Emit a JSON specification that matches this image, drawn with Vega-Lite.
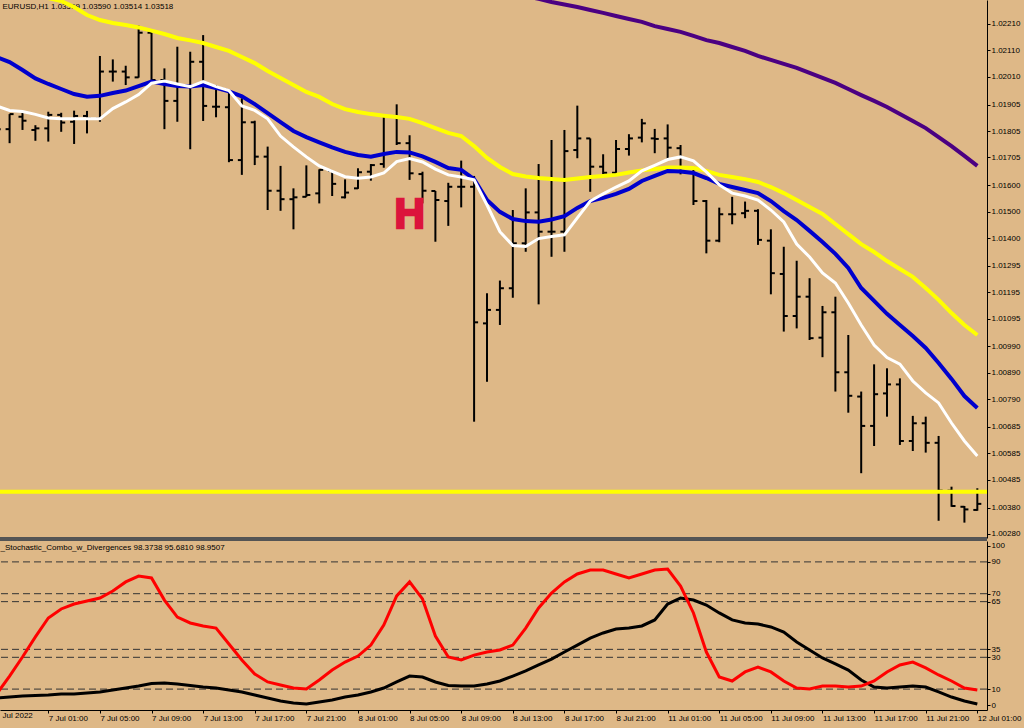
{
  "$schema": "https://vega.github.io/schema/vega-lite/v6.json",
  "width": 987,
  "height": 710,
  "autosize": {"type": "none"},
  "padding": {"left": 0, "top": 0, "right": 37, "bottom": 18},
  "background": "#DEB887",
  "datasets": {
    "bars": [
      {"i":-4,"t":"6 Jul 21:00","o":1.01828,"h":1.01854,"l":1.0179,"c":1.01812,"ma1":1.02395,"ma2":1.02085,"ma3":1.019,"k":6.9,"d":4.4},
      {"i":-3,"t":"6 Jul 22:00","o":1.01812,"h":1.01869,"l":1.01759,"c":1.01869,"ma1":1.02369,"ma2":1.02066,"ma3":1.01883,"k":18.2,"d":5.0},
      {"i":-2,"t":"6 Jul 23:00","o":1.01859,"h":1.01874,"l":1.01809,"c":1.01844,"ma1":1.02346,"ma2":1.02036,"ma3":1.01879,"k":30.2,"d":5.7},
      {"i":-1,"t":"7 Jul 00:00","o":1.01809,"h":1.01827,"l":1.01768,"c":1.01815,"ma1":1.02324,"ma2":1.02004,"ma3":1.01868,"k":42.8,"d":6.0},
      {"i":0,"t":"7 Jul 01:00","o":1.01815,"h":1.01878,"l":1.01765,"c":1.01866,"ma1":1.02308,"ma2":1.01983,"ma3":1.01854,"k":54.7,"d":6.3},
      {"i":1,"t":"7 Jul 02:00","o":1.01866,"h":1.01874,"l":1.01802,"c":1.01837,"ma1":1.02297,"ma2":1.01964,"ma3":1.01851,"k":60.4,"d":6.9},
      {"i":2,"t":"7 Jul 03:00","o":1.0184,"h":1.01882,"l":1.01756,"c":1.01862,"ma1":1.02274,"ma2":1.01945,"ma3":1.01851,"k":63.5,"d":6.9},
      {"i":3,"t":"7 Jul 04:00","o":1.01862,"h":1.01881,"l":1.01796,"c":1.01852,"ma1":1.02244,"ma2":1.01935,"ma3":1.01851,"k":65.4,"d":7.5},
      {"i":4,"t":"7 Jul 05:00","o":1.01852,"h":1.02089,"l":1.0184,"c":1.0203,"ma1":1.02225,"ma2":1.01938,"ma3":1.01851,"k":67.3,"d":8.2},
      {"i":5,"t":"7 Jul 06:00","o":1.0203,"h":1.02076,"l":1.01992,"c":1.0203,"ma1":1.02214,"ma2":1.01949,"ma3":1.0189,"k":71.7,"d":9.4},
      {"i":6,"t":"7 Jul 07:00","o":1.0203,"h":1.02052,"l":1.01979,"c":1.02008,"ma1":1.02206,"ma2":1.01958,"ma3":1.01915,"k":77.4,"d":10.7},
      {"i":7,"t":"7 Jul 08:00","o":1.02008,"h":1.02204,"l":1.02007,"c":1.02177,"ma1":1.02197,"ma2":1.01975,"ma3":1.01943,"k":81.1,"d":11.9},
      {"i":8,"t":"7 Jul 09:00","o":1.02177,"h":1.02177,"l":1.01998,"c":1.01998,"ma1":1.02185,"ma2":1.01992,"ma3":1.01986,"k":79.9,"d":13.5},
      {"i":9,"t":"7 Jul 10:00","o":1.01998,"h":1.02042,"l":1.01812,"c":1.01919,"ma1":1.02172,"ma2":1.01983,"ma3":1.01994,"k":66.0,"d":13.8},
      {"i":10,"t":"7 Jul 11:00","o":1.01919,"h":1.02124,"l":1.0184,"c":1.01973,"ma1":1.02157,"ma2":1.01975,"ma3":1.01983,"k":55.3,"d":13.2},
      {"i":11,"t":"7 Jul 12:00","o":1.01973,"h":1.02105,"l":1.01736,"c":1.02067,"ma1":1.02148,"ma2":1.01973,"ma3":1.01973,"k":51.6,"d":12.3},
      {"i":12,"t":"7 Jul 13:00","o":1.02067,"h":1.02168,"l":1.01843,"c":1.019,"ma1":1.02138,"ma2":1.01979,"ma3":1.01992,"k":49.7,"d":11.3},
      {"i":13,"t":"7 Jul 14:00","o":1.01897,"h":1.01979,"l":1.01857,"c":1.01897,"ma1":1.02123,"ma2":1.01968,"ma3":1.01973,"k":48.4,"d":10.7},
      {"i":14,"t":"7 Jul 15:00","o":1.01895,"h":1.01958,"l":1.01687,"c":1.01695,"ma1":1.02108,"ma2":1.01955,"ma3":1.01958,"k":38.4,"d":9.4},
      {"i":15,"t":"7 Jul 16:00","o":1.01695,"h":1.01929,"l":1.01639,"c":1.01838,"ma1":1.02085,"ma2":1.01936,"ma3":1.019,"k":28.3,"d":8.2},
      {"i":16,"t":"7 Jul 17:00","o":1.01838,"h":1.01844,"l":1.01676,"c":1.01708,"ma1":1.02062,"ma2":1.01907,"ma3":1.01883,"k":19.5,"d":6.3},
      {"i":17,"t":"7 Jul 18:00","o":1.01708,"h":1.01746,"l":1.01506,"c":1.01579,"ma1":1.02032,"ma2":1.01873,"ma3":1.01851,"k":14.5,"d":4.4},
      {"i":18,"t":"7 Jul 19:00","o":1.01579,"h":1.01673,"l":1.01503,"c":1.01547,"ma1":1.02006,"ma2":1.01839,"ma3":1.01786,"k":12.6,"d":2.5},
      {"i":19,"t":"7 Jul 20:00","o":1.01547,"h":1.01588,"l":1.01433,"c":1.01554,"ma1":1.01979,"ma2":1.01805,"ma3":1.01745,"k":10.7,"d":1.3},
      {"i":20,"t":"7 Jul 21:00","o":1.01556,"h":1.01675,"l":1.01556,"c":1.01563,"ma1":1.01953,"ma2":1.01782,"ma3":1.01707,"k":10.1,"d":0.6},
      {"i":21,"t":"7 Jul 22:00","o":1.01569,"h":1.0166,"l":1.01531,"c":1.01658,"ma1":1.01934,"ma2":1.01762,"ma3":1.01673,"k":15.7,"d":1.9},
      {"i":22,"t":"7 Jul 23:00","o":1.01654,"h":1.01654,"l":1.01559,"c":1.01605,"ma1":1.01907,"ma2":1.01743,"ma3":1.01652,"k":22.0,"d":3.1},
      {"i":23,"t":"8 Jul 00:00","o":1.01554,"h":1.01622,"l":1.0155,"c":1.01572,"ma1":1.01888,"ma2":1.01726,"ma3":1.01632,"k":27.0,"d":5.0},
      {"i":24,"t":"8 Jul 01:00","o":1.01588,"h":1.01664,"l":1.01586,"c":1.01649,"ma1":1.01877,"ma2":1.01714,"ma3":1.01626,"k":30.8,"d":6.3},
      {"i":25,"t":"8 Jul 02:00","o":1.01651,"h":1.0168,"l":1.01617,"c":1.01676,"ma1":1.01869,"ma2":1.01708,"ma3":1.01631,"k":37.7,"d":8.2},
      {"i":26,"t":"8 Jul 03:00","o":1.0168,"h":1.01863,"l":1.01666,"c":1.01862,"ma1":1.01863,"ma2":1.01718,"ma3":1.01646,"k":50.3,"d":10.7},
      {"i":27,"t":"8 Jul 04:00","o":1.01862,"h":1.01906,"l":1.01752,"c":1.01759,"ma1":1.01858,"ma2":1.01726,"ma3":1.01689,"k":68.6,"d":14.5},
      {"i":28,"t":"8 Jul 05:00","o":1.01759,"h":1.01789,"l":1.0162,"c":1.01645,"ma1":1.01851,"ma2":1.01724,"ma3":1.01701,"k":77.4,"d":18.2},
      {"i":29,"t":"8 Jul 06:00","o":1.01642,"h":1.01651,"l":1.01531,"c":1.01579,"ma1":1.01835,"ma2":1.01709,"ma3":1.01688,"k":66.7,"d":17.6},
      {"i":30,"t":"8 Jul 07:00","o":1.01578,"h":1.01578,"l":1.01386,"c":1.01544,"ma1":1.01816,"ma2":1.01688,"ma3":1.01661,"k":43.4,"d":14.5},
      {"i":31,"t":"8 Jul 08:00","o":1.0154,"h":1.01609,"l":1.01446,"c":1.01594,"ma1":1.01798,"ma2":1.01665,"ma3":1.01639,"k":30.2,"d":12.3},
      {"i":32,"t":"8 Jul 09:00","o":1.01594,"h":1.01693,"l":1.01516,"c":1.01594,"ma1":1.01786,"ma2":1.01658,"ma3":1.01631,"k":28.3,"d":11.9},
      {"i":33,"t":"8 Jul 10:00","o":1.01594,"h":1.01635,"l":1.00705,"c":1.01081,"ma1":1.01748,"ma2":1.01623,"ma3":1.0162,"k":31.4,"d":11.9},
      {"i":34,"t":"8 Jul 11:00","o":1.01077,"h":1.01191,"l":1.00856,"c":1.01128,"ma1":1.01703,"ma2":1.01544,"ma3":1.01525,"k":33.3,"d":13.2},
      {"i":35,"t":"8 Jul 12:00","o":1.01128,"h":1.01239,"l":1.01071,"c":1.0121,"ma1":1.01669,"ma2":1.01499,"ma3":1.01424,"k":34.6,"d":15.1},
      {"i":36,"t":"8 Jul 13:00","o":1.0121,"h":1.01506,"l":1.01174,"c":1.0138,"ma1":1.01642,"ma2":1.01472,"ma3":1.01372,"ma4":1.02327,"k":37.7,"d":18.2},
      {"i":37,"t":"8 Jul 14:00","o":1.0138,"h":1.01588,"l":1.01348,"c":1.01497,"ma1":1.01633,"ma2":1.01464,"ma3":1.01368,"ma4":1.02316,"k":48.4,"d":21.4},
      {"i":38,"t":"8 Jul 15:00","o":1.01497,"h":1.0168,"l":1.01149,"c":1.01424,"ma1":1.01627,"ma2":1.01462,"ma3":1.01398,"ma4":1.02305,"k":61.0,"d":25.2},
      {"i":39,"t":"8 Jul 16:00","o":1.01424,"h":1.01771,"l":1.01329,"c":1.01424,"ma1":1.01623,"ma2":1.0147,"ma3":1.01406,"ma4":1.02293,"k":70.4,"d":28.9},
      {"i":40,"t":"8 Jul 17:00","o":1.01424,"h":1.01809,"l":1.01348,"c":1.01729,"ma1":1.0162,"ma2":1.01483,"ma3":1.01412,"ma4":1.02284,"k":77.4,"d":33.3},
      {"i":41,"t":"8 Jul 18:00","o":1.01733,"h":1.01901,"l":1.01702,"c":1.01777,"ma1":1.01625,"ma2":1.01514,"ma3":1.01476,"ma4":1.02274,"k":82.4,"d":37.7},
      {"i":42,"t":"8 Jul 19:00","o":1.01777,"h":1.01777,"l":1.01575,"c":1.0167,"ma1":1.01631,"ma2":1.0154,"ma3":1.0154,"ma4":1.02263,"k":84.9,"d":42.1},
      {"i":43,"t":"8 Jul 20:00","o":1.0167,"h":1.01717,"l":1.01628,"c":1.01647,"ma1":1.01635,"ma2":1.01552,"ma3":1.01567,"ma4":1.02252,"k":84.9,"d":45.3},
      {"i":44,"t":"8 Jul 21:00","o":1.01647,"h":1.01771,"l":1.01645,"c":1.01737,"ma1":1.01639,"ma2":1.01567,"ma3":1.01593,"ma4":1.0224,"k":82.4,"d":47.8},
      {"i":45,"t":"8 Jul 22:00","o":1.01737,"h":1.01793,"l":1.01712,"c":1.01777,"ma1":1.01648,"ma2":1.01586,"ma3":1.01616,"ma4":1.02229,"k":79.9,"d":48.4},
      {"i":46,"t":"8 Jul 23:00","o":1.0178,"h":1.01851,"l":1.01762,"c":1.01834,"ma1":1.01656,"ma2":1.01616,"ma3":1.01654,"ma4":1.02218,"k":82.4,"d":49.7},
      {"i":47,"t":"11 Jul 00:00","o":1.01777,"h":1.01813,"l":1.01721,"c":1.01775,"ma1":1.01661,"ma2":1.01635,"ma3":1.01675,"ma4":1.02202,"k":84.9,"d":53.5},
      {"i":48,"t":"11 Jul 01:00","o":1.01777,"h":1.0183,"l":1.01695,"c":1.01742,"ma1":1.01667,"ma2":1.01654,"ma3":1.01697,"ma4":1.02191,"k":85.5,"d":63.5},
      {"i":49,"t":"11 Jul 02:00","o":1.0174,"h":1.01752,"l":1.01641,"c":1.01666,"ma1":1.01667,"ma2":1.01652,"ma3":1.01707,"ma4":1.0218,"k":74.8,"d":67.3},
      {"i":50,"t":"11 Jul 03:00","o":1.01666,"h":1.0167,"l":1.01525,"c":1.0154,"ma1":1.01665,"ma2":1.01646,"ma3":1.01692,"ma4":1.02165,"k":57.9,"d":66.0},
      {"i":51,"t":"11 Jul 04:00","o":1.0154,"h":1.01544,"l":1.01342,"c":1.0139,"ma1":1.01654,"ma2":1.01627,"ma3":1.0165,"ma4":1.02149,"k":33.3,"d":62.9},
      {"i":52,"t":"11 Jul 05:00","o":1.0139,"h":1.01515,"l":1.01384,"c":1.0149,"ma1":1.01639,"ma2":1.01605,"ma3":1.01601,"ma4":1.02138,"k":17.6,"d":57.9},
      {"i":53,"t":"11 Jul 06:00","o":1.0149,"h":1.01556,"l":1.01452,"c":1.0149,"ma1":1.01631,"ma2":1.01593,"ma3":1.0157,"ma4":1.02123,"k":15.1,"d":53.5},
      {"i":54,"t":"11 Jul 07:00","o":1.01494,"h":1.01538,"l":1.01475,"c":1.01503,"ma1":1.01623,"ma2":1.01582,"ma3":1.01559,"ma4":1.02108,"k":20.8,"d":51.6},
      {"i":55,"t":"11 Jul 08:00","o":1.01503,"h":1.01509,"l":1.01374,"c":1.01393,"ma1":1.01612,"ma2":1.0157,"ma3":1.01544,"ma4":1.02089,"k":23.9,"d":50.9},
      {"i":56,"t":"11 Jul 09:00","o":1.0139,"h":1.01433,"l":1.01187,"c":1.01267,"ma1":1.01593,"ma2":1.0154,"ma3":1.01506,"ma4":1.02074,"k":20.8,"d":49.1},
      {"i":57,"t":"11 Jul 10:00","o":1.01264,"h":1.01367,"l":1.01046,"c":1.01105,"ma1":1.0157,"ma2":1.01502,"ma3":1.01461,"ma4":1.02059,"k":15.1,"d":45.9},
      {"i":58,"t":"11 Jul 11:00","o":1.01105,"h":1.01314,"l":1.01058,"c":1.01178,"ma1":1.01544,"ma2":1.01468,"ma3":1.01377,"ma4":1.02044,"k":10.7,"d":39.6},
      {"i":59,"t":"11 Jul 12:00","o":1.01178,"h":1.01248,"l":1.01014,"c":1.01021,"ma1":1.01517,"ma2":1.01427,"ma3":1.01328,"ma4":1.02025,"k":10.1,"d":34.6},
      {"i":60,"t":"11 Jul 13:00","o":1.01023,"h":1.01143,"l":1.00949,"c":1.01119,"ma1":1.01491,"ma2":1.01385,"ma3":1.01268,"ma4":1.02006,"k":11.9,"d":29.6},
      {"i":61,"t":"11 Jul 14:00","o":1.01119,"h":1.01178,"l":1.00819,"c":1.00892,"ma1":1.01453,"ma2":1.0134,"ma3":1.0123,"ma4":1.01987,"k":11.9,"d":25.8},
      {"i":62,"t":"11 Jul 15:00","o":1.00892,"h":1.01033,"l":1.00739,"c":1.00803,"ma1":1.01415,"ma2":1.01287,"ma3":1.01154,"ma4":1.01964,"k":11.3,"d":22.0},
      {"i":63,"t":"11 Jul 16:00","o":1.008,"h":1.00819,"l":1.0051,"c":1.00689,"ma1":1.01377,"ma2":1.01211,"ma3":1.01071,"ma4":1.01941,"k":11.9,"d":15.7},
      {"i":64,"t":"11 Jul 17:00","o":1.00689,"h":1.00922,"l":1.00613,"c":1.00809,"ma1":1.01347,"ma2":1.01162,"ma3":1.00995,"ma4":1.01919,"k":15.1,"d":11.3},
      {"i":65,"t":"11 Jul 18:00","o":1.00812,"h":1.00907,"l":1.00724,"c":1.00846,"ma1":1.01313,"ma2":1.01113,"ma3":1.00948,"ma4":1.01896,"k":20.8,"d":10.7},
      {"i":66,"t":"11 Jul 19:00","o":1.00846,"h":1.00869,"l":1.00617,"c":1.00632,"ma1":1.01283,"ma2":1.01071,"ma3":1.00923,"ma4":1.01869,"k":25.2,"d":11.3},
      {"i":67,"t":"11 Jul 20:00","o":1.00632,"h":1.00727,"l":1.00594,"c":1.00699,"ma1":1.01253,"ma2":1.01029,"ma3":1.00859,"ma4":1.01843,"k":27.0,"d":11.9},
      {"i":68,"t":"11 Jul 21:00","o":1.00699,"h":1.00724,"l":1.00588,"c":1.00625,"ma1":1.01211,"ma2":1.00984,"ma3":1.00814,"ma4":1.01816,"k":23.3,"d":11.3},
      {"i":69,"t":"11 Jul 22:00","o":1.00625,"h":1.00651,"l":1.0033,"c":1.00444,"ma1":1.01166,"ma2":1.00927,"ma3":1.00776,"ma4":1.01782,"k":18.9,"d":8.2},
      {"i":70,"t":"11 Jul 23:00","o":1.00444,"h":1.00459,"l":1.00383,"c":1.00386,"ma1":1.01116,"ma2":1.00867,"ma3":1.007,"ma4":1.01748,"k":15.1,"d":5.0},
      {"i":71,"t":"12 Jul 00:00","o":1.00383,"h":1.00386,"l":1.00323,"c":1.00373,"ma1":1.01071,"ma2":1.00802,"ma3":1.00632,"ma4":1.01711,"k":10.7,"d":2.5},
      {"i":72,"t":"12 Jul 01:00","o":1.00371,"h":1.00453,"l":1.00368,"c":1.00394,"ma1":1.01033,"ma2":1.00757,"ma3":1.00575,"ma4":1.01673,"k":9.4,"d":0.6}
    ],
    "levels": [{"v": 90}, {"v": 70}, {"v": 65}, {"v": 35}, {"v": 30}, {"v": 10}],
    "marks": [{"i": 28, "p": 1.01438, "label": "H"}],
    "hlines": [{"p": 1.0044}]
  },
  "data": {"name": "bars"},
  "layer": [
    {
      "layer": [
        {
          "mark": {"type": "rule", "color": "black", "strokeWidth": 2},
          "encoding": {
            "x": {"field": "i", "type": "quantitative", "scale": {"domain": [-3.743, 72.75], "nice": false, "zero": false}},
            "y": {"field": "l", "type": "quantitative", "scale": {"domain": [1.002648, 1.023008], "range": [538, 0], "nice": false, "zero": false},
              "axis": {"orient": "right", "values": [1.0221, 1.0211, 1.0201, 1.01905, 1.01805, 1.01705, 1.016, 1.015, 1.014, 1.01295, 1.01195, 1.01095, 1.0099, 1.0089, 1.0079, 1.00685, 1.00585, 1.00485, 1.0038, 1.0028],
                "tickCount": 100, "format": ".5f", "tickSize": 3, "labelPadding": 1, "labelBaseline": "middle", "labelOverlap": false,
                "title": "EURUSD,H1  1.03569 1.03590 1.03514 1.03518", "titleAngle": 0, "titleX": -985, "titleY": 6, "titleAlign": "left", "titleBaseline": "middle"}},
            "y2": {"field": "h"}
          }
        },
        {
          "mark": {"type": "rule", "color": "black", "strokeWidth": 2, "xOffset": -4, "x2Offset": 0},
          "encoding": {
            "x": {"field": "i", "type": "quantitative", "scale": {"domain": [-3.743, 72.75], "nice": false, "zero": false}},
            "x2": {"field": "i"},
            "y": {"field": "o", "type": "quantitative", "scale": {"domain": [1.002648, 1.023008], "range": [538, 0], "nice": false, "zero": false}}
          }
        },
        {
          "mark": {"type": "rule", "color": "black", "strokeWidth": 2, "xOffset": 0, "x2Offset": 4},
          "encoding": {
            "x": {"field": "i", "type": "quantitative", "scale": {"domain": [-3.743, 72.75], "nice": false, "zero": false}},
            "x2": {"field": "i"},
            "y": {"field": "c", "type": "quantitative", "scale": {"domain": [1.002648, 1.023008], "range": [538, 0], "nice": false, "zero": false}}
          }
        },
        {
          "mark": {"type": "line", "color": "#FFFF00", "strokeWidth": 4},
          "encoding": {
            "x": {"field": "i", "type": "quantitative", "scale": {"domain": [-3.743, 72.75], "nice": false, "zero": false}},
            "y": {"field": "ma1", "type": "quantitative", "scale": {"domain": [1.002648, 1.023008], "range": [538, 0], "nice": false, "zero": false}}
          }
        },
        {
          "mark": {"type": "line", "color": "#0000CD", "strokeWidth": 4},
          "encoding": {
            "x": {"field": "i", "type": "quantitative", "scale": {"domain": [-3.743, 72.75], "nice": false, "zero": false}},
            "y": {"field": "ma2", "type": "quantitative", "scale": {"domain": [1.002648, 1.023008], "range": [538, 0], "nice": false, "zero": false}}
          }
        },
        {
          "mark": {"type": "line", "color": "#FFFFFF", "strokeWidth": 3},
          "encoding": {
            "x": {"field": "i", "type": "quantitative", "scale": {"domain": [-3.743, 72.75], "nice": false, "zero": false}},
            "y": {"field": "ma3", "type": "quantitative", "scale": {"domain": [1.002648, 1.023008], "range": [538, 0], "nice": false, "zero": false}}
          }
        },
        {
          "mark": {"type": "line", "color": "#4B0082", "strokeWidth": 4},
          "encoding": {
            "x": {"field": "i", "type": "quantitative", "scale": {"domain": [-3.743, 72.75], "nice": false, "zero": false}},
            "y": {"field": "ma4", "type": "quantitative", "scale": {"domain": [1.002648, 1.023008], "range": [538, 0], "nice": false, "zero": false}}
          }
        },
        {
          "data": {"name": "hlines"},
          "mark": {"type": "rule", "color": "#FFFF00", "strokeWidth": 4},
          "encoding": {
            "y": {"field": "p", "type": "quantitative", "scale": {"domain": [1.002648, 1.023008], "range": [538, 0], "nice": false, "zero": false}}
          }
        },
        {
          "data": {"name": "marks"},
          "mark": {"type": "text", "font": "Liberation Sans", "fontWeight": "bold", "fontSize": 42, "color": "#DC143C", "stroke": "#DC143C", "strokeWidth": 2.5, "align": "center", "baseline": "alphabetic"},
          "encoding": {
            "x": {"field": "i", "type": "quantitative", "scale": {"domain": [-3.743, 72.75], "nice": false, "zero": false}},
            "y": {"field": "p", "type": "quantitative", "scale": {"domain": [1.002648, 1.023008], "range": [538, 0], "nice": false, "zero": false}},
            "text": {"field": "label"}
          }
        }
      ]
    },
    {
      "layer": [
        {
          "data": {"name": "levels"},
          "mark": {"type": "rule", "color": "#333333", "strokeWidth": 1, "strokeDash": [7, 4]},
          "encoding": {
            "y": {"field": "v", "type": "quantitative", "scale": {"domain": [-3.14, 103.14], "range": [710, 541], "nice": false, "zero": false},
              "axis": {"orient": "right", "values": [0, 10, 30, 35, 65, 70, 90, 100], "tickCount": 100, "tickSize": 3, "labelPadding": 1, "labelBaseline": "middle", "labelOverlap": false,
                "title": "_Stochastic_Combo_w_Divergences 98.3738 95.6810 98.9507", "titleAngle": 0, "titleX": -987, "titleY": 547, "titleAlign": "left", "titleBaseline": "middle"}}
          }
        },
        {
          "mark": {"type": "rule", "color": "#555555", "strokeWidth": 3},
          "encoding": {
            "y": {"datum": 104.3, "type": "quantitative", "scale": {"domain": [-3.14, 103.14], "range": [710, 541], "nice": false, "zero": false}}
          }
        },
        {
          "mark": {"type": "line", "color": "black", "strokeWidth": 3},
          "encoding": {
            "x": {"field": "i", "type": "quantitative", "scale": {"domain": [-3.743, 72.75], "nice": false, "zero": false},
              "axis": {"orient": "bottom", "values": [-3.74, 0, 4, 8, 12, 16, 20, 24, 28, 32, 36, 40, 44, 48, 52, 56, 60, 64, 68, 72], "tickCount": 100,
                "labelExpr": "datum.value < 0 ? 'Jul 2022' : ['7 Jul 01:00','7 Jul 05:00','7 Jul 09:00','7 Jul 13:00','7 Jul 17:00','7 Jul 21:00','8 Jul 01:00','8 Jul 05:00','8 Jul 09:00','8 Jul 13:00','8 Jul 17:00','8 Jul 21:00','11 Jul 01:00','11 Jul 05:00','11 Jul 09:00','11 Jul 13:00','11 Jul 17:00','11 Jul 21:00','12 Jul 01:00'][datum.value / 4]",
                "labelOffset": {"condition": {"test": "datum.value < 0", "value": 2}, "value": 0},
                "tickSize": {"condition": {"test": "datum.value < 0", "value": 0}, "value": 3},
                "labelAlign": "left", "labelBaseline": "top", "labelPadding": 1, "labelFlush": false, "labelOverlap": false, "labelBound": false, "title": null}},
            "y": {"field": "d", "type": "quantitative", "scale": {"domain": [-3.14, 103.14], "range": [710, 541], "nice": false, "zero": false}}
          }
        },
        {
          "mark": {"type": "line", "color": "#FF0000", "strokeWidth": 3},
          "encoding": {
            "x": {"field": "i", "type": "quantitative", "scale": {"domain": [-3.743, 72.75], "nice": false, "zero": false}},
            "y": {"field": "k", "type": "quantitative", "scale": {"domain": [-3.14, 103.14], "range": [710, 541], "nice": false, "zero": false}}
          }
        }
      ]
    }
  ],
  "resolve": {"scale": {"y": "independent"}, "axis": {"y": "independent"}},
  "config": {
    "view": {"stroke": null},
    "axis": {
      "labelFont": "Liberation Sans", "labelFontSize": 8, "labelColor": "black", "labelOverlap": false,
      "titleFont": "Liberation Sans", "titleFontSize": 8, "titleFontWeight": "normal", "titleColor": "black",
      "domainColor": "black", "domainWidth": 1, "tickColor": "black", "grid": false
    }
  }
}
